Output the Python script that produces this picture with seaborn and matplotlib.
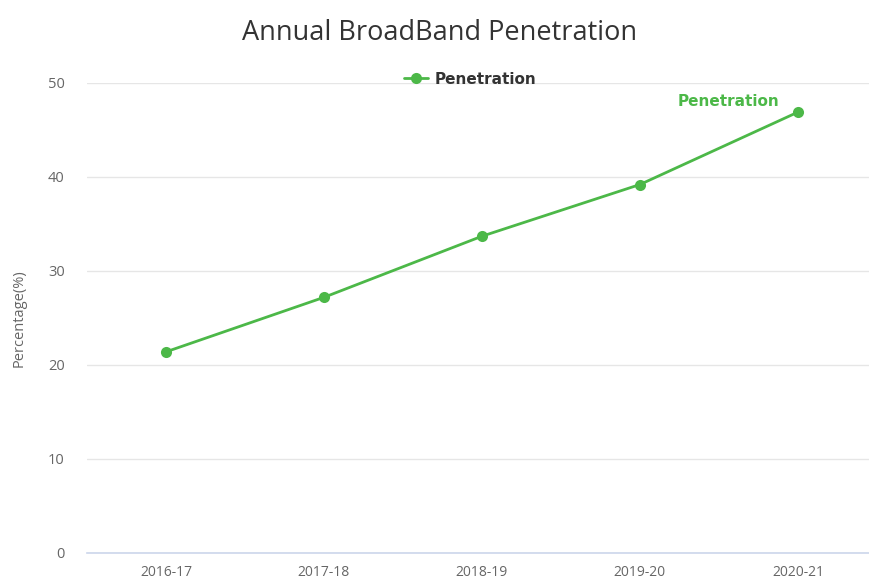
import pandas as pd
import matplotlib.pyplot as plt
import seaborn as sns

# data
years = ['2016-17', '2017-18', '2018-19', '2019-20', '2020-21']
penetration = [21.4, 27.2, 33.7, 39.2, 46.9]

df = pd.DataFrame({'Year': years, 'Penetration': penetration})

sns.set_style('white')
plt.rcParams['font.family'] = ['Open Sans', 'DejaVu Sans']

green = '#4cb848'
fig = plt.figure(figsize=(8.69, 5.82), dpi=100)
ax = fig.add_axes([87 / 869, 1 - 553 / 582, 1 - 87 / 869, (553 - 83) / 582])

sns.lineplot(data=df, x='Year', y='Penetration', ax=ax, color=green,
             marker='o', markersize=8, markeredgewidth=0, linewidth=2,
             label='Penetration', sort=False)

ax.set_ylim(0, 50)
ax.set_xlim(-0.5, 4.45)
ax.set_yticks([0, 10, 20, 30, 40, 50])
ax.grid(axis='y', color='#e6e6e6', linewidth=1)
ax.set_axisbelow(True)
for s in ['top', 'right', 'left']:
    ax.spines[s].set_visible(False)
ax.spines['bottom'].set_color('#ccd6eb')
ax.spines['bottom'].set_linewidth(1.2)
ax.tick_params(axis='both', length=0, colors='#666666')
ax.tick_params(axis='y', pad=16, labelsize=10.5)
ax.tick_params(axis='x', pad=9, labelsize=10)
ax.set_xlabel('')
ax.set_ylabel('Percentage(%)', color='#666666', fontsize=10.5, labelpad=15)

# data label on last point
ax.annotate('Penetration', (4, penetration[-1]), xytext=(-13, 2),
            textcoords='offset points', ha='right', va='bottom',
            color=green, fontsize=11, fontweight='bold', family='DejaVu Sans')

leg = ax.legend(loc='upper center', bbox_to_anchor=(0.49, 1.053), frameon=False,
                prop={'family': 'DejaVu Sans', 'weight': 'bold', 'size': 11},
                handlelength=1.6, handletextpad=0.4)
for t in leg.get_texts():
    t.set_color('#333333')

fig.suptitle('Annual BroadBand Penetration', x=0.506, y=0.968, fontsize=19.5, color='#333333')

fig.savefig('out.png', dpi=100)
